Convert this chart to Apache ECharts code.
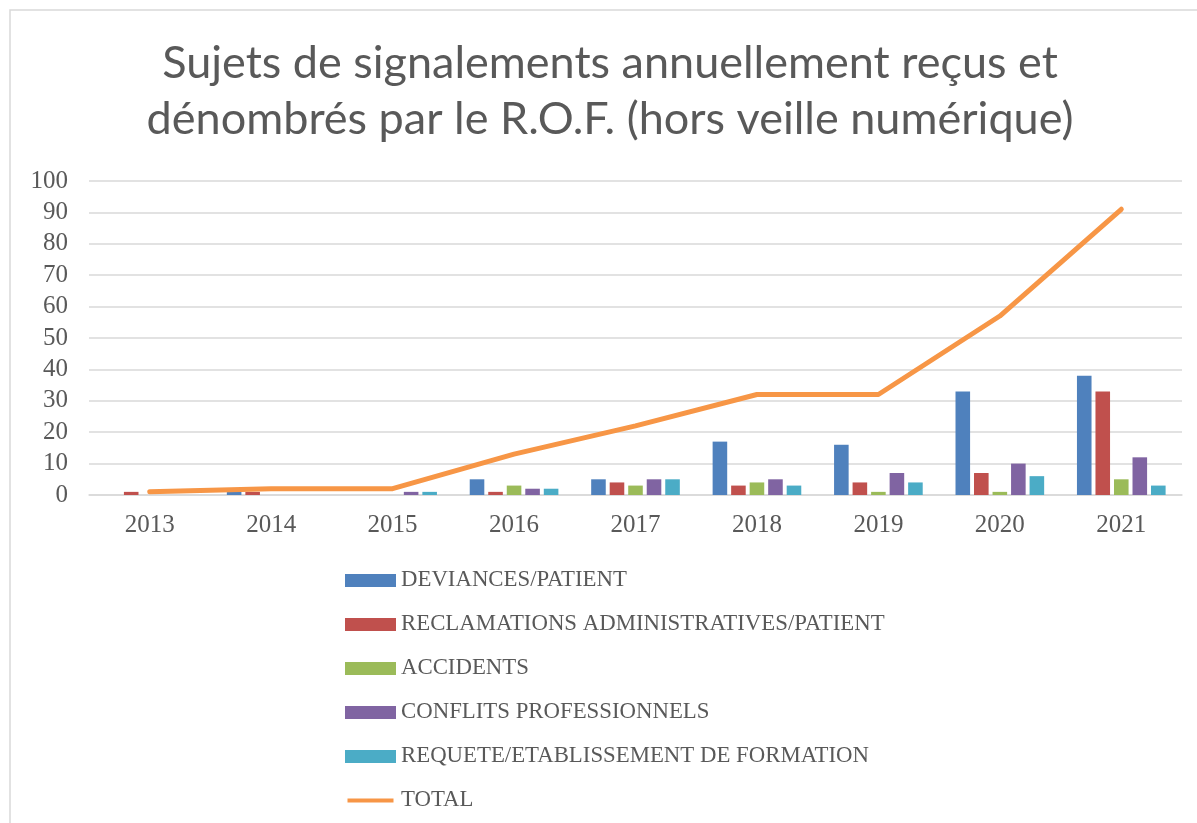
<!DOCTYPE html>
<html>
<head>
<meta charset="utf-8">
<script src="https://cdn.jsdelivr.net/npm/echarts@6/dist/echarts.min.js"></script>
<style>
  html, body { margin: 0; padding: 0; background: #fff; }
  #chart { width: 1197px; height: 823px; }
</style>
</head>
<body>
<div id="chart"></div>
<script>
// données
var years = ["2013", "2014", "2015", "2016", "2017", "2018", "2019", "2020", "2021"];
var deviances = [0, 1, 0, 5, 5, 17, 16, 33, 38];
var reclamations = [1, 1, 0, 1, 4, 3, 4, 7, 33];
var accidents = [0, 0, 0, 3, 3, 4, 1, 1, 5];
var conflits = [0, 0, 1, 2, 5, 5, 7, 10, 12];
var requetes = [0, 0, 1, 2, 5, 3, 4, 6, 3];
var total = [1, 2, 2, 13, 22, 32, 32, 57, 91];

var myChart = echarts.init(document.getElementById("chart"));

var serif = "Liberation Serif";
var grey = "#595959";

function barSerie(name, data, color) {
  return {
    name: name,
    type: "bar",
    data: data,
    barGap: "27%",
    barCategoryGap: "27%",
    itemStyle: { color: color }
  };
}

// icône de légende pour la courbe : trait fin centré
var lineIcon = "path://M0,0L0.01,0M0,4.5L46,4.5L46,8.5L0,8.5ZM46,13L45.99,13";

var option = {
  animation: false,
  // cadre du graphique
  graphic: [
    {
      type: "rect",
      shape: { x: 10, y: 10, width: 1300, height: 900 },
      style: { fill: "none", stroke: "#d9d9d9", lineWidth: 1.5 },
      silent: true
    }
  ],
  title: {
    text: "Sujets de signalements annuellement reçus et\ndénombrés par le R.O.F. (hors veille numérique)",
    left: 605,
    textAlign: "center",
    top: 30,
    textStyle: {
      fontFamily: "Lato",
      fontWeight: "normal",
      fontSize: 45,
      lineHeight: 56,
      color: grey
    }
  },
  legend: {
    orient: "vertical",
    left: 345,
    top: 569,
    padding: 0,
    itemWidth: 51,
    itemHeight: 13,
    itemGap: 21,
    textStyle: { fontFamily: serif, fontSize: 22.8, color: grey },
    data: [
      { name: "DEVIANCES/PATIENT", icon: "rect" },
      { name: "RECLAMATIONS ADMINISTRATIVES/PATIENT", icon: "rect" },
      { name: "ACCIDENTS", icon: "rect" },
      { name: "CONFLITS PROFESSIONNELS", icon: "rect" },
      { name: "REQUETE/ETABLISSEMENT DE FORMATION", icon: "rect" },
      { name: "TOTAL", icon: lineIcon }
    ]
  },
  grid: { left: 89, right: 15, top: 181, bottom: 328 },
  xAxis: {
    type: "category",
    data: years,
    axisLine: { lineStyle: { color: "#d9d9d9", width: 1.5 } },
    axisTick: { show: false },
    axisLabel: { fontFamily: serif, fontSize: 25, color: grey, margin: 18 }
  },
  yAxis: {
    type: "value",
    min: 0,
    max: 100,
    interval: 10,
    axisLine: { show: false },
    axisTick: { show: false },
    splitLine: { lineStyle: { color: "#d9d9d9", width: 1.5 } },
    axisLabel: { fontFamily: serif, fontSize: 25, color: grey, margin: 21 }
  },
  series: [
    barSerie("DEVIANCES/PATIENT", deviances, "#4F81BD"),
    barSerie("RECLAMATIONS ADMINISTRATIVES/PATIENT", reclamations, "#C0504D"),
    barSerie("ACCIDENTS", accidents, "#9BBB59"),
    barSerie("CONFLITS PROFESSIONNELS", conflits, "#8064A2"),
    barSerie("REQUETE/ETABLISSEMENT DE FORMATION", requetes, "#4BACC6"),
    {
      name: "TOTAL",
      type: "line",
      data: total,
      showSymbol: false,
      symbol: "none",
      itemStyle: { color: "#F79646" },
      lineStyle: { color: "#F79646", width: 5, cap: "round", join: "round" },
      z: 5
    }
  ]
};

option && myChart.setOption(option);
</script>
</body>
</html>
